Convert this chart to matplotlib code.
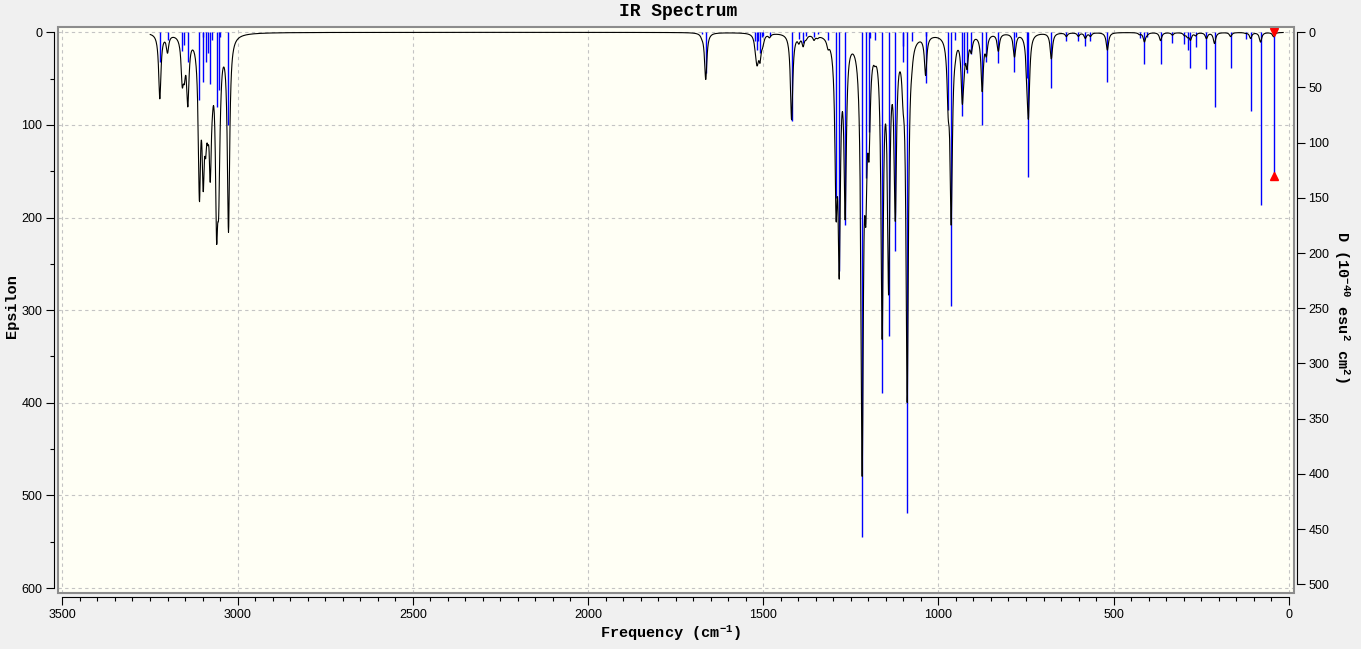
import numpy as np
import matplotlib.pyplot as plt
from matplotlib.patches import Rectangle
from matplotlib.ticker import MultipleLocator

# Stick spectrum: frequency (cm-1) and dipole strength D (10^-40 esu^2 cm^2)
freqs = [3222, 3200, 3158, 3152, 3142, 3109, 3100, 3098, 3091, 3085, 3078, 3072,
         3060, 3054, 3049, 3026,
         1675, 1664, 1522, 1518, 1515, 1509, 1502, 1500, 1482, 1419, 1398, 1386,
         1377, 1355, 1345, 1315, 1292, 1283, 1266, 1217.6, 1207, 1198, 1195, 1181,
         1160.5, 1142, 1123, 1101, 1100, 1089, 1076, 1036.6, 1036, 972, 963.4, 952,
         932, 928, 918, 906, 875, 863, 829, 783, 779.5, 747, 743, 677.7, 634.7,
         600.5, 580.5, 566, 517.7, 426, 412, 404, 366, 332, 297.7, 289, 280.6, 266,
         235, 212, 166, 123, 109, 80.6, 43.4]
dipole = [26.5, 7, 16.6, 11.5, 26.5, 61.7, 4.5, 45, 26.5, 19, 47, 7,
          68, 52, 4, 84,
          1.5, 37, 7.5, 16, 8, 19, 4.5, 3, 3, 80, 6, 10,
          3, 4.5, 2, 7, 150, 216, 175, 457.6, 132, 90, 5, 7,
          327, 275, 198, 26.5, 12, 435.6, 8, 46, 3, 70, 248, 7,
          76, 30, 37, 20, 83.7, 26.5, 27.4, 36.4, 4.3, 41.5, 131, 50.5, 7.5,
          7.5, 12.5, 8, 44.6, 5, 29, 4, 29, 10, 10.5, 16.5, 32.5, 13.5,
          33, 67.7, 32.5, 6, 71.6, 156.5, 130]

# selected mode (red markers)
sel_freq = 43.4
sel_dip = 130

# Lorentzian broadening of the sticks -> epsilon curve
hwhm = 4.0
eps_scale = 8.2e-4
nu = np.arange(16, 3250, 0.7)
f = np.array(freqs)
d = np.array(dipole)
eps = (eps_scale * d * f / (1 + ((nu[:, None] - f) / hwhm) ** 2)).sum(axis=1)

plt.rcParams['font.family'] = 'Liberation Sans'
plt.rcParams['font.size'] = 9
plt.rcParams['mathtext.fontset'] = 'custom'
plt.rcParams['mathtext.rm'] = 'Liberation Mono:bold'
plt.rcParams['mathtext.it'] = 'Liberation Mono:bold'
plt.rcParams['mathtext.bf'] = 'Liberation Mono:bold'

fig = plt.figure(figsize=(13.61, 6.49), dpi=100, facecolor='#f0f0f0')
ax = fig.add_axes([0.04225, 0.08675, 0.9083, 0.8712])
ax2 = ax.twinx()
ax.set_zorder(ax2.get_zorder() + 1)
ax.patch.set_visible(False)
ax2.patch.set_visible(True)
ax2.patch.set_facecolor('#fffff5')

ax2.set_ylim(507.6, -4.5)

ax.grid(True, which='major', color='#c4c4c4', linestyle=(0, (3, 3)), lw=0.8, zorder=0)

# sticks drawn in D units (right axis)
ax.vlines(freqs, 0, dipole, colors='#0000ff', lw=1.0, transform=ax2.transData, zorder=2)
ax.plot(nu, eps, color='black', lw=0.8, zorder=3)
ax.plot([sel_freq], [0], marker='v', color='red', ms=5.5, transform=ax2.transData,
        clip_on=False, zorder=4)
ax.plot([sel_freq], [sel_dip], marker='^', color='red', ms=5.5, transform=ax2.transData,
        clip_on=False, zorder=4)
ax.set_xlim(3514, -14)
ax.set_ylim(605, -5.4)

# frame around plot area
ax.add_patch(Rectangle((0, 0), 1, 1, transform=ax.transAxes, fill=False,
                       edgecolor='#8c8c8c', lw=1.5, clip_on=False, zorder=5))

for s in ['top', 'right']:
    ax.spines[s].set_visible(False)
for s in ['top', 'left', 'bottom']:
    ax2.spines[s].set_visible(False)
ax.spines['left'].set_position(('outward', 2.5))
ax.spines['left'].set_bounds(0, 600)
ax.spines['bottom'].set_position(('outward', 3))
ax.spines['bottom'].set_bounds(0, 3500)
ax2.spines['right'].set_position(('outward', 2.2))
ax2.spines['right'].set_bounds(0, 500)

ax.xaxis.set_major_locator(MultipleLocator(500))
ax.xaxis.set_minor_locator(MultipleLocator(50))
ax.yaxis.set_major_locator(MultipleLocator(100))
ax.yaxis.set_minor_locator(MultipleLocator(50))
ax2.yaxis.set_major_locator(MultipleLocator(50))
ax.tick_params(which='major', direction='out', length=5.5, width=0.8, pad=3)
ax.tick_params(which='minor', direction='out', length=3, width=0.8)
ax2.tick_params(which='major', direction='out', length=5.5, width=0.8, pad=3)

lab = dict(family='Liberation Mono', weight='bold')
fig.text(678 / 1361, 1 - 12 / 649, 'IR Spectrum', ha='center', va='center', size=13, **lab)
fig.text(670 / 1361, 1 - 633 / 649, 'Frequency (cm$^{-1}$)', ha='center', va='center',
         size=11, **lab)
fig.text(12 / 1361, 1 - 306 / 649, 'Epsilon', ha='center', va='center', rotation=90,
         size=11, **lab)
fig.text(1342 / 1361, 1 - 307 / 649, 'D (10$^{-40}$ esu$^{2}$ cm$^{2}$)', ha='center',
         va='center', rotation=270, size=11, **lab)

fig.savefig('out.png', dpi=100, facecolor=fig.get_facecolor())
